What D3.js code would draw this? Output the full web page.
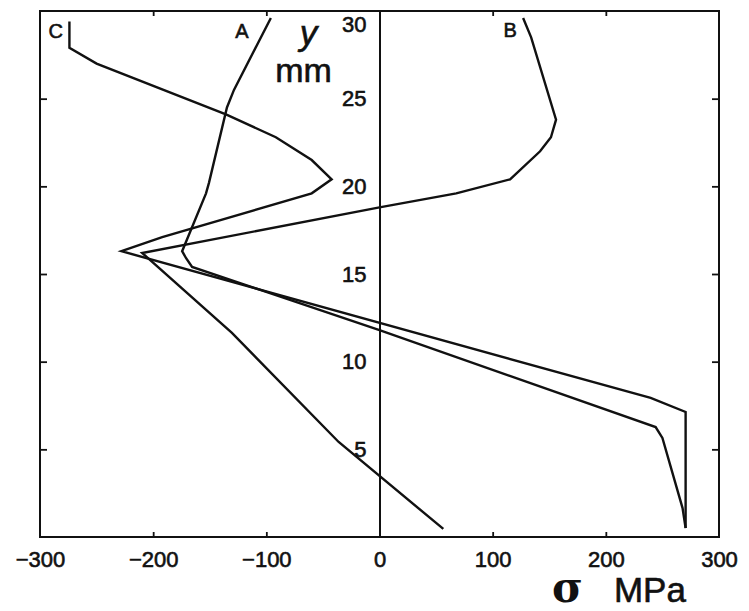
<!DOCTYPE html>
<html>
<head>
<meta charset="utf-8">
<script src="https://cdn.jsdelivr.net/npm/d3@7"></script>
<style>
  html, body { margin: 0; padding: 0; background: #fff; }
  svg { display: block; }
  text { font-family: "Liberation Sans", Arial, Helvetica, sans-serif; fill: #111; }
</style>
</head>
<body>
<svg id="chart" width="749" height="611"></svg>
<script>
// ---- data (sigma in MPa, y in mm) ----
const xTicks = [-300, -200, -100, 0, 100, 200, 300];
const yTicks = [5, 10, 15, 20, 25, 30];

const curveA_sigma = [-96, -128.6, -134.8, -150.7, -153.3, -174.4, -170.9, -165.6, 0, 244, 250, 267.8, 270.5];
const curveA_y     = [29.6, 25.5, 24.5, 20.2, 19.6, 16.3, 15.9, 15.4, 11.8, 6.27, 5.65, 1.65, 0.51];

const curveB_sigma = [126.9, 134, 156, 151.5, 141.9, 115.4, 67.8, 0, -209.7, -130.4, -36.1, 56.4];
const curveB_y     = [29.6, 28.5, 23.8, 22.8, 22.0, 20.4, 19.6, 18.8, 16.2, 11.64, 5.42, 0.46];

const curveC_sigma = [-274, -274, -250, -135.7, -91.6, -59.9, -42.3, -59.9, -192, -228, 239.6, 270.5, 270.5];
const curveC_y     = [29.4, 27.9, 27.0, 24.1, 22.8, 21.5, 20.4, 19.6, 17.1, 16.3, 7.93, 7.13, 0.51];

const curveNames = ["A", "B", "C"];
const labelSigma = [-121.6, 115.4, -286];
const labelY     = [28.46, 28.5, 28.46];

// ---- layout ----
const svg = d3.select("#chart");
const x = d3.scaleLinear().domain([-300, 300]).range([40, 719]);
const y = d3.scaleLinear().domain([0, 30]).range([537, 11]);

const ink = "#111";
const curves = [
  d3.zip(curveA_sigma, curveA_y),
  d3.zip(curveB_sigma, curveB_y),
  d3.zip(curveC_sigma, curveC_y)
];

// frame ticks (inward)
const innerTicksX = xTicks.filter(v => v !== -300 && v !== 300 && v !== 0);
const innerTicksY = yTicks.filter(v => v !== 30);

function styleAxis(g) {
  g.selectAll("path.domain").remove();
  g.selectAll(".tick line").attr("stroke", ink).attr("stroke-width", 1.8);
  g.selectAll(".tick text").remove();
}

svg.append("g").attr("transform", `translate(0,${y(30)})`)
  .call(d3.axisBottom(x).tickValues(innerTicksX).tickSize(5)).call(styleAxis);
svg.append("g").attr("transform", `translate(0,${y(0)})`)
  .call(d3.axisTop(x).tickValues(innerTicksX).tickSize(5)).call(styleAxis);
svg.append("g").attr("transform", `translate(${x(-300)},0)`)
  .call(d3.axisRight(y).tickValues(innerTicksY).tickSize(7)).call(styleAxis);
svg.append("g").attr("transform", `translate(${x(300)},0)`)
  .call(d3.axisLeft(y).tickValues(innerTicksY).tickSize(7)).call(styleAxis);

// frame
svg.append("rect")
  .attr("x", x(-300)).attr("y", y(30))
  .attr("width", x(300) - x(-300)).attr("height", y(0) - y(30))
  .attr("fill", "none").attr("stroke", ink).attr("stroke-width", 2);

// x tick labels
const xAxisG = svg.append("g").attr("transform", `translate(0,${y(0)})`)
  .call(d3.axisBottom(x).tickValues(xTicks).tickSize(0).tickPadding(14));
xAxisG.select("path.domain").remove();
xAxisG.selectAll(".tick text")
  .attr("font-size", 22).attr("fill", ink)
  .attr("stroke", ink).attr("stroke-width", 0.6)
  .style("font-family", "'Liberation Sans', Arial, sans-serif");

// central y axis (at sigma = 0)
const yAxisG = svg.append("g").attr("transform", `translate(${x(0)},0)`)
  .call(d3.axisLeft(y).tickValues(yTicks).tickSize(0).tickSizeOuter(0).tickPadding(13));
yAxisG.select("path.domain").attr("stroke", ink).attr("stroke-width", 2);
yAxisG.selectAll(".tick text")
  .attr("font-size", 22).attr("fill", ink)
  .attr("stroke", ink).attr("stroke-width", 0.6)
  .style("font-family", "'Liberation Sans', Arial, sans-serif");
yAxisG.selectAll(".tick").filter(d => d === 30).select("text").attr("y", 13.5);

// curves
const line = d3.line().x(d => x(d[0])).y(d => y(d[1]));
svg.append("g").selectAll("path.curve")
  .data(curves).join("path")
  .attr("class", "curve")
  .attr("d", line)
  .attr("fill", "none")
  .attr("stroke", ink)
  .attr("stroke-width", 2.4)
  .attr("stroke-linejoin", "miter");

// curve labels
svg.append("g").selectAll("text.lbl")
  .data(curveNames).join("text")
  .attr("class", "lbl")
  .attr("x", (d, i) => x(labelSigma[i]))
  .attr("y", (d, i) => y(labelY[i]))
  .attr("text-anchor", "middle")
  .attr("font-size", 20)
  .attr("stroke", ink).attr("stroke-width", 0.6)
  .text(d => d);

// y axis title
svg.append("text")
  .attr("x", x(0) - 71).attr("y", 45)
  .attr("text-anchor", "middle")
  .attr("font-size", 35).attr("font-style", "italic")
  .attr("stroke", ink).attr("stroke-width", 0.6)
  .text("y");
svg.append("text")
  .attr("x", x(0) - 76).attr("y", 82)
  .attr("text-anchor", "middle")
  .attr("font-size", 34)
  .attr("stroke", ink).attr("stroke-width", 0.6)
  .text("mm");

// x axis title
const xt = svg.append("text").attr("x", 552).attr("y", 602);
xt.append("tspan")
  .style("font-family", "'DejaVu Serif', serif")
  .attr("font-size", 42).attr("font-weight", "bold")
  .text("σ");
xt.append("tspan")
  .attr("dx", 31)
  .attr("font-size", 35)
  .attr("stroke", ink).attr("stroke-width", 0.6)
  .text("MPa");
</script>
</body>
</html>
